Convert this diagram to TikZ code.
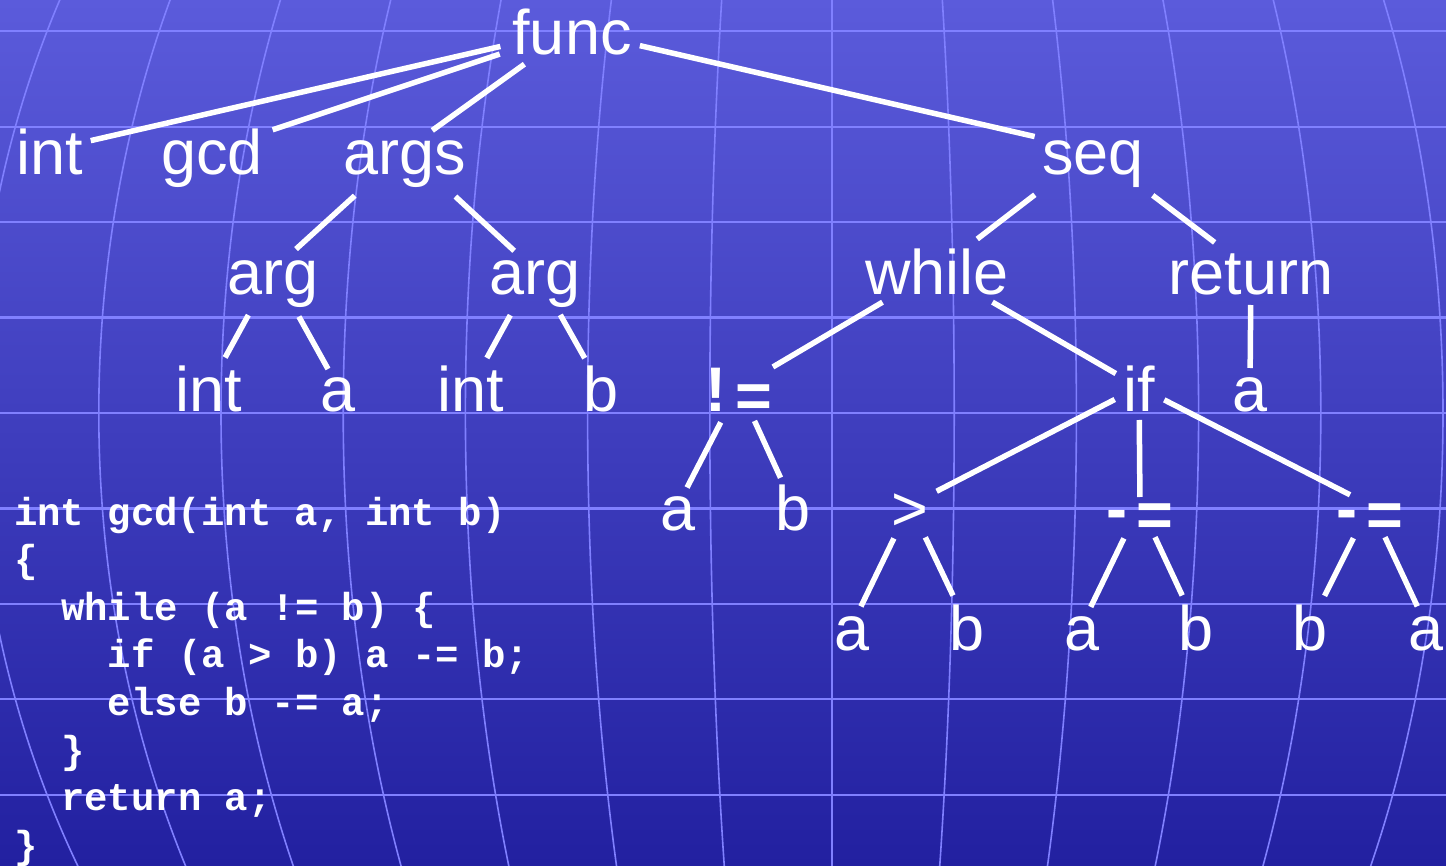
\documentclass[tikz,border=0pt]{standalone}
\usepackage{fontspec}
\setmainfont{Liberation Sans}
\newfontfamily\codefont{Liberation Mono}
\usetikzlibrary{calc}

\definecolor{bgtop}{RGB}{91,91,219}
\definecolor{bgbot}{RGB}{34,32,160}
\definecolor{gridc}{RGB}{128,128,255}

\tikzset{
  gridline/.style={draw=gridc, line width=1.6pt},
  gridrow/.style={draw=gridc, line width=2.2pt},
  tnode/.style={text=white, inner sep=0pt, anchor=base,
    font=\fontsize{63}{70}\selectfont, text height=50pt, text depth=0pt},
  opnode/.style={tnode, font=\fontsize{63}{70}\selectfont\bfseries},
  codeline/.style={text=white, inner sep=0pt, anchor=base west,
    font=\codefont\bfseries\fontsize{39}{47}\selectfont},
  edge/.style={draw=white, line width=5.5pt, line cap=butt}
}

% operator pieces: a little extra spacing, and a lowered equals sign
\newcommand{\opgap}{\hspace{0.14em}}
\newcommand{\loweq}{\raisebox{-6pt}{=}}

\begin{document}
\begin{tikzpicture}[x=1pt, y=-1pt]
  % canvas and background shading
  \path[use as bounding box] (0,0) rectangle (1446,866);
  \shade[top color=bgtop, bottom color=bgbot] (0,0) rectangle (1446,866);

  % curved globe-like grid
  \begin{scope}
    \clip (0,0) rectangle (1446,866);
    \foreach \m in {-4,...,4}
      \draw[gridrow] (0,{413+95.4*\m}) -- (1446,{413+95.4*\m});
    \draw[gridline] (832,0) -- (832,866);
    \foreach \k in {1,...,7} {
      \pgfmathsetmacro\rx{122.2*\k}
      \draw[gridline] (832,413) ellipse [x radius=\rx pt, y radius=959pt];
    }
  \end{scope}

  % syntax tree
  \node[tnode] (func)   at (572,55)  {func};

  \node[tnode] (int1)   at (50,175)  {int};
  \node[tnode] (gcd)    at (212,175) {gcd};
  \node[tnode] (args)   at (405,175) {args};
  \node[tnode] (seq)    at (1093,175) {seq};

  \node[tnode] (arg1)   at (273,295) {arg};
  \node[tnode] (arg2)   at (535,295) {arg};
  \node[tnode] (while)  at (937,295) {while};
  \node[tnode] (ret)    at (1251,295) {return};

  \node[tnode] (intA)   at (209,412) {int};
  \node[tnode] (a1)     at (338,412) {a};
  \node[tnode] (intB)   at (471,412) {int};
  \node[tnode] (b1)     at (601,412) {b};
  \node[opnode] (ne)    at (739,412) {!\opgap\loweq};
  \node[tnode] (if)     at (1139,412) {if};
  \node[tnode] (a2)     at (1250,412) {a};

  \node[tnode] (a3)     at (678,530) {a};
  \node[tnode] (b3)     at (793,530) {b};
  \node[tnode] (gt)     at (910,530) {>};
  \node[opnode] (me1)   at (1140,530) {-\opgap\loweq};
  \node[opnode] (me2)   at (1370,530) {-\opgap\loweq};

  \node[tnode] (a4)     at (852,650) {a};
  \node[tnode] (b4)     at (967,650) {b};
  \node[tnode] (a5)     at (1082,650) {a};
  \node[tnode] (b5)     at (1196,650) {b};
  \node[tnode] (b6)     at (1310,650) {b};
  \node[tnode] (a6)     at (1426,650) {a};

  % tree edges: parent/child/gap at parent/gap at child
  \foreach \p/\c/\s/\e in {
      func/int1/73.5/41.8, func/gcd/76.2/63.9, func/args/58.6/33.6,
      func/seq/69.6/59.9,
      args/arg1/67.9/31.1, args/arg2/68.6/28.3,
      seq/while/73.4/50.8, seq/ret/75/45.6,
      arg1/intA/51.4/33.6, arg1/a1/53.3/20.6,
      arg2/intB/51.5/33.1, arg2/b1/51.5/33.1,
      while/ne/63.3/39.4, while/if/64.1/26.8,
      ret/a2/35/19,
      ne/a3/39.8/19.7, ne/b3/37.3/30,
      if/gt/27.3/30, if/me1/33/8, if/me2/28.3/22.4,
      gt/a4/37.1/20.6, gt/b4/35.8/32.6,
      me1/a5/37.1/20.1, me1/b5/35.5/32.6,
      me2/b6/37.1/32.6, me2/a6/35.5/20.6}
    \draw[edge, shorten <=\s pt, shorten >=\e pt] (\p.center) -- (\c.center);

  % source code listing
  \node[codeline] (code1) at (14,525)   {int gcd(int a, int b)};
  \node[codeline] (code2) at (14,572.6) {\{};
  \node[codeline] (code3) at (14,620.2) {\phantom{xx}while (a != b) \{};
  \node[codeline] (code4) at (14,667.8) {\phantom{xxxx}if (a > b) a -= b;};
  \node[codeline] (code5) at (14,715.4) {\phantom{xxxx}else b -= a;};
  \node[codeline] (code6) at (14,763)   {\phantom{xx}\}};
  \node[codeline] (code7) at (14,810.6) {\phantom{xx}return a;};
  \node[codeline] (code8) at (14,858.2) {\}};
\end{tikzpicture}
\end{document}
